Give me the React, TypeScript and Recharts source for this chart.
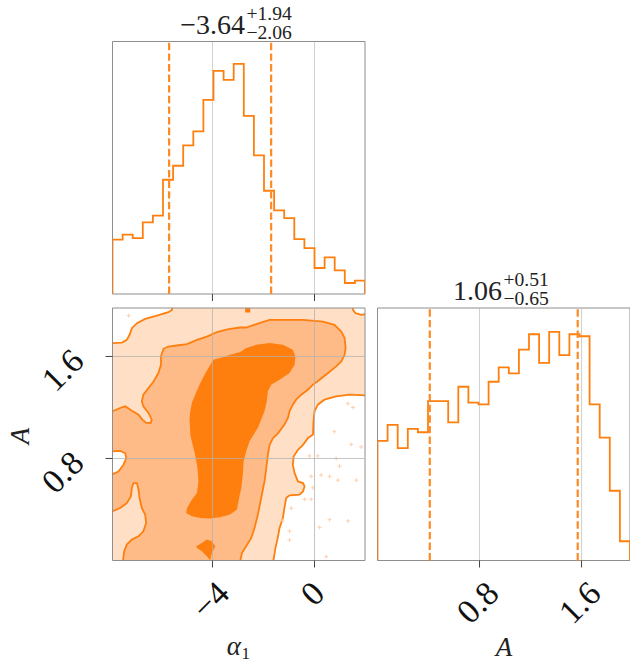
import React from 'react';
import { LineChart, Line, ScatterChart, Scatter, XAxis, YAxis, ReferenceLine, ReferenceArea } from 'recharts';

// ---------------- data ----------------
const alphaRange: [number, number] = [-7.92, 1.98];
const alphaCounts = [163, 178, 168, 215, 235, 343, 385, 446, 488, 583, 670, 643, 691, 535, 416, 310, 251, 228, 165, 138, 78, 110, 71, 33, 40];
const alphaHistMax = 758;
const alphaDashed = [-5.70, -1.70];
const alphaTicks = [-4, 0];
const alphaTickLabels = ['−4', '0'];
const alphaTitle = { main: '−3.64', sup: '+1.94', sub: '−2.06' };

const aRange: [number, number] = [0, 1.98];
const aCounts = [360, 408, 338, 396, 386, 480, 480, 416, 523, 475, 470, 538, 581, 563, 635, 681, 595, 688, 618, 681, 675, 470, 370, 210, 58];
const aHistMax = 760;
const aDashed = [0.41, 1.57];
const aTicks = [0.8, 1.6];
const aTickLabels = ['0.8', '1.6'];
const aTitle = { main: '1.06', sup: '+0.51', sub: '−0.65' };

// 2D contours (alpha_1, A)
const outerTopLeft = [[-5.59, 1.98], [-5.59, 1.965], [-5.73, 1.947], [-6.18, 1.92], [-6.64, 1.895], [-6.96, 1.861], [-7.16, 1.822], [-7.25, 1.77], [-7.36, 1.73], [-7.55, 1.709], [-7.92, 1.705]];
const outerTopRight = [[1.51, 1.98], [1.51, 1.965], [1.61, 1.939], [1.83, 1.926], [1.98, 1.931]];
const outerRight = [[1.98, 1.295], [1.37, 1.3], [0.85, 1.287], [0.39, 1.261], [0.13, 1.222], [0.0, 1.17], [-0.04, 1.092], [-0.06, 0.988], [-0.26, 0.959], [-0.45, 0.907], [-0.65, 0.868], [-0.82, 0.816], [-0.85, 0.751], [-0.78, 0.685], [-0.65, 0.62], [-0.45, 0.607], [-0.39, 0.581], [-0.45, 0.542], [-0.59, 0.516], [-0.98, 0.511], [-1.11, 0.49], [-1.18, 0.411], [-1.24, 0.333], [-1.37, 0.255], [-1.44, 0.177], [-1.53, 0.099], [-1.61, 0]];
const outerHole = [[-7.92, 0.855], [-7.62, 0.86], [-7.42, 0.841], [-7.38, 0.802], [-7.49, 0.751], [-7.69, 0.698], [-7.92, 0.677]];
const midMain = [[-7.92, 1.17], [-7.62, 1.196], [-7.42, 1.209], [-7.16, 1.175], [-6.9, 1.144], [-6.75, 1.105], [-6.6, 1.079], [-6.42, 1.079], [-6.38, 1.105], [-6.51, 1.157], [-6.71, 1.209], [-6.77, 1.248], [-6.71, 1.3], [-6.51, 1.353], [-6.31, 1.404], [-6.12, 1.47], [-6.02, 1.535], [-6.02, 1.6], [-5.92, 1.66], [-5.73, 1.678], [-5.4, 1.686], [-5.0, 1.697], [-4.61, 1.73], [-4.22, 1.756], [-3.83, 1.791], [-3.37, 1.814], [-2.91, 1.827], [-2.68, 1.827], [-2.16, 1.861], [-1.76, 1.887], [-1.37, 1.887], [-0.45, 1.887], [0.33, 1.873], [0.78, 1.848], [1.05, 1.795], [1.18, 1.744], [1.22, 1.666], [1.18, 1.613], [1.05, 1.561], [0.85, 1.522], [0.53, 1.47], [0.2, 1.418], [-0.06, 1.379], [-0.26, 1.339], [-0.52, 1.3], [-0.72, 1.261], [-0.85, 1.222], [-0.98, 1.17], [-1.04, 1.118], [-1.18, 1.066], [-1.44, 0.995], [-1.63, 0.959], [-1.76, 0.907], [-1.83, 0.829], [-1.89, 0.724], [-1.96, 0.62], [-2.09, 0.49], [-2.22, 0.36], [-2.35, 0.255], [-2.48, 0.177], [-2.68, 0.112], [-2.84, 0.06], [-2.91, 0]];
const midBottomLeft = [[-7.92, 0.386], [-7.62, 0.411], [-7.36, 0.45], [-7.2, 0.503], [-7.16, 0.568], [-7.1, 0.607], [-6.96, 0.607], [-6.9, 0.555], [-6.86, 0.49], [-6.77, 0.411], [-6.64, 0.36], [-6.6, 0.294], [-6.71, 0.229], [-6.9, 0.19], [-7.16, 0.164], [-7.36, 0.125], [-7.46, 0.073], [-7.51, 0]];
const darkMain = [[-4.87, 0.988], [-4.9, 1.105], [-4.87, 1.17], [-4.81, 1.235], [-4.68, 1.3], [-4.51, 1.379], [-4.35, 1.443], [-4.16, 1.509], [-3.96, 1.574], [-3.7, 1.587], [-3.31, 1.613], [-2.91, 1.634], [-2.68, 1.666], [-2.29, 1.691], [-1.76, 1.705], [-1.24, 1.691], [-0.85, 1.652], [-0.75, 1.6], [-0.78, 1.535], [-0.98, 1.47], [-1.37, 1.418], [-1.7, 1.379], [-1.83, 1.326], [-1.87, 1.248], [-1.96, 1.17], [-2.09, 1.105], [-2.22, 1.04], [-2.36, 0.995], [-2.55, 0.933], [-2.68, 0.855], [-2.78, 0.777], [-2.81, 0.673], [-2.87, 0.568], [-2.94, 0.503], [-3.04, 0.399], [-3.31, 0.36], [-3.7, 0.339], [-4.09, 0.329], [-4.48, 0.333], [-4.81, 0.347], [-5.03, 0.372], [-5.0, 0.411], [-4.81, 0.477], [-4.61, 0.529], [-4.55, 0.62], [-4.59, 0.724], [-4.68, 0.829], [-4.81, 0.933]];
const darkBottom = [[-4.64, 0.112], [-4.42, 0.138], [-4.22, 0.164], [-4.02, 0.151], [-3.89, 0.112], [-4.02, 0.06], [-4.09, 0], [-4.22, 0.034], [-4.42, 0.073], [-4.61, 0.099]];
const darkTop = [[-2.72, 1.98], [-2.52, 1.98], [-2.52, 1.945], [-2.72, 1.945]];
const outliers = [[-7.29, 1.92], [1.31, 1.23], [1.51, 1.2], [0.78, 1.01], [-0.2, 0.82], [0.13, 0.82], [0.85, 0.8], [1.44, 0.91], [1.83, 0.89], [0.98, 0.74], [0.26, 0.67], [0.59, 0.66], [0.92, 0.63], [-0.13, 0.66], [-0.06, 0.57], [-0.39, 0.48], [-0.13, 0.48], [1.64, 0.63], [0.59, 0.32], [0.2, 0.26], [1.31, 0.31], [-0.91, 0.41], [-0.98, 0.23], [-0.98, 0.16], [-1.24, 0.31], [0.46, 0.03]];

// ---------------- style ----------------
const W = 630, H = 662;
const PANEL = 252.5;
const AXH = 40; // space given to axes (compensated in margins)
const P1 = { left: 112.5, top: 41.5 };
const P2 = { left: 112.5, top: 308 };
const P3 = { left: 377.5, top: 308 };
const ORANGE = '#ff7f0e';
const DASH_ORANGE = '#ff8a24';
const LIGHT = '#ffdfc5';
const MID = '#febb87';
const GRID = '#b0b0b0';
const FRAME = '#8e8e8e';
const FONT = '"Liberation Serif", "Times New Roman", serif';
const TICK_FS = 34;

const marginOf = (p: { left: number; top: number }, xAxisH = 0, yAxisW = 0) => ({
  left: p.left - yAxisW,
  top: p.top,
  right: W - p.left - PANEL,
  bottom: H - p.top - PANEL - xAxisH,
});
const abs: React.CSSProperties = { position: 'absolute', left: 0, top: 0 };

const toPts = (arr: number[][]) => arr.map(([x, y]) => ({ x, y }));

function stepData(range: [number, number], counts: number[]) {
  const n = counts.length;
  const w = (range[1] - range[0]) / n;
  const pts = [{ x: range[0], y: 0 }];
  counts.forEach((c, i) => pts.push({ x: range[0] + i * w, y: c }));
  pts.push({ x: range[1], y: counts[n - 1] });
  pts.push({ x: range[1], y: 0 });
  return pts;
}

function textWidthEm(s: string) {
  let w = 0;
  for (const ch of s) w += ch === '.' ? 0.25 : ch === '−' ? 0.564 : 0.5;
  return w;
}

function BottomTick(props: any) {
  const { x, y, payload, labels, ticks } = props;
  const i = ticks.indexOf(payload.value);
  const label = labels ? labels[i] : null;
  let t = null;
  if (label) {
    const w = textWidthEm(label) * TICK_FS;
    const h = 0.66 * TICK_FS;
    const half = (w + h) / (2 * Math.SQRT2);
    const cx = x - 2;
    const cy = y + 19 + half;
    t = (
      <text x={cx} y={cy} textAnchor="middle" dominantBaseline="central" fontFamily={FONT} fontSize={TICK_FS} fill="#111" transform={`rotate(-45 ${cx} ${cy})`}>
        {label}
      </text>
    );
  }
  return (
    <g>
      <line x1={x} y1={y} x2={x} y2={y + 7} stroke="#444" strokeWidth={1} />
      {t}
    </g>
  );
}

function LeftTick(props: any) {
  const { x, y, payload, labels, ticks } = props;
  const i = ticks.indexOf(payload.value);
  const label = labels[i];
  const cx = x - 50;
  const cy = y + 13.5;
  return (
    <g>
      <line x1={x - 7} y1={y} x2={x} y2={y} stroke="#444" strokeWidth={1} />
      <text x={cx} y={cy} textAnchor="middle" dominantBaseline="central" fontFamily={FONT} fontSize={TICK_FS} fill="#111" transform={`rotate(-45 ${cx} ${cy})`}>
        {label}
      </text>
    </g>
  );
}

const NoDot = () => null;
const Cross = (p: any) => (
  <path d={`M${p.cx - 2},${p.cy}h4M${p.cx},${p.cy - 2}v4`} stroke="#ffcfae" strokeWidth={1} fill="none" />
);

const fillPoly = (key: string, pts: number[][], fill: string) => (
  <Scatter key={key} data={toPts(pts)} line={{ fill, stroke: 'none' }} lineJointType="linearClosed" shape={NoDot} isAnimationActive={false} legendType="none" />
);
const strokeLine = (key: string, pts: number[][]) => (
  <Scatter key={key} data={toPts(pts)} line={{ fill: 'none', stroke: ORANGE, strokeWidth: 1.8 }} lineJointType="linear" shape={NoDot} isAnimationActive={false} legendType="none" />
);

function Histogram({ p, range, counts, ymax, dashed, ticks, labels }: any) {
  const data = stepData(range, counts);
  return (
    <div style={abs}>
      <LineChart width={W} height={H} data={data} margin={marginOf(p, AXH, 0)}>
        <XAxis type="number" dataKey="x" domain={range} allowDataOverflow height={AXH} tickSize={0} tickMargin={0} axisLine={false} tickLine={false} ticks={ticks} interval={0} tick={<BottomTick ticks={ticks} labels={labels} />} />
        <YAxis type="number" domain={[0, ymax]} allowDataOverflow hide width={0} />
        {ticks.map((t: number) => (
          <ReferenceLine key={`g${t}`} x={t} stroke={GRID} strokeOpacity={0.6} strokeWidth={1} />
        ))}
        <Line dataKey="y" type="stepAfter" stroke={ORANGE} strokeWidth={1.8} dot={false} activeDot={false} isAnimationActive={false} />
        {dashed.map((q: number) => (
          <ReferenceLine key={`q${q}`} x={q} stroke={DASH_ORANGE} strokeWidth={2.2} strokeDasharray="7.4 3.2" />
        ))}
        <ReferenceArea x1={range[0]} x2={range[1]} y1={0} y2={ymax} fill="none" fillOpacity={0} stroke={FRAME} strokeWidth={1} ifOverflow="visible" />
      </LineChart>
    </div>
  );
}

function Title({ cx, baseline, t }: any) {
  return (
    <g fontFamily={FONT} fill="#222">
      <text x={cx - 0.5} y={baseline} textAnchor="end" fontSize={28}>{t.main}</text>
      <text x={cx + 1} y={baseline - 14} textAnchor="start" fontSize={19.6}>{t.sup}</text>
      <text x={cx + 1} y={baseline + 5} textAnchor="start" fontSize={19.6}>{t.sub}</text>
    </g>
  );
}

export default function App() {
  const panelRect = [[alphaRange[0], aRange[0]], [alphaRange[1], aRange[0]], [alphaRange[1], aRange[1]], [alphaRange[0], aRange[1]]];
  return (
    <div style={{ position: 'absolute', left: 0, top: 0, width: W, height: H, background: '#fff', overflow: 'hidden' }}>
      <Histogram p={P1} range={alphaRange} counts={alphaCounts} ymax={alphaHistMax} dashed={alphaDashed} ticks={alphaTicks} labels={null} />
      <Histogram p={P3} range={aRange} counts={aCounts} ymax={aHistMax} dashed={aDashed} ticks={aTicks} labels={aTickLabels} />

      {/* 2D contour fills and lines */}
      <div style={abs}>
        <ScatterChart width={W} height={H} margin={marginOf(P2)}>
          <XAxis type="number" dataKey="x" domain={alphaRange} allowDataOverflow hide height={0} />
          <YAxis type="number" dataKey="y" domain={aRange} allowDataOverflow hide width={0} />
          {fillPoly('bg', panelRect, LIGHT)}
          {fillPoly('mid', [...midMain, [alphaRange[0], 0]], MID)}
          {fillPoly('bl', [...midBottomLeft, [alphaRange[0], 0]], LIGHT)}
          {fillPoly('dm', darkMain, ORANGE)}
          {fillPoly('db', darkBottom, ORANGE)}
          {fillPoly('dt', darkTop, ORANGE)}
          {fillPoly('wtl', [...outerTopLeft, [alphaRange[0], aRange[1]]], '#ffffff')}
          {fillPoly('wtr', [...outerTopRight, [alphaRange[1], aRange[1]]], '#ffffff')}
          {fillPoly('wr', [...outerRight, [alphaRange[1], 0]], '#ffffff')}
          {fillPoly('wh', outerHole, '#ffffff')}
          {strokeLine('ltl', outerTopLeft)}
          {strokeLine('ltr', outerTopRight)}
          {strokeLine('lr', outerRight)}
          {strokeLine('lh', outerHole)}
          {strokeLine('lm', midMain)}
          {strokeLine('lbl', midBottomLeft)}
          <Scatter data={toPts(outliers)} shape={Cross} isAnimationActive={false} legendType="none" />
        </ScatterChart>
      </div>

      {/* 2D grid, frame, ticks */}
      <div style={abs}>
        <ScatterChart width={W} height={H} margin={marginOf(P2, AXH, AXH)}>
          <XAxis type="number" dataKey="x" domain={alphaRange} allowDataOverflow height={AXH} tickSize={0} tickMargin={0} axisLine={false} tickLine={false} ticks={alphaTicks} interval={0} tick={<BottomTick ticks={alphaTicks} labels={alphaTickLabels} />} />
          <YAxis type="number" dataKey="y" domain={aRange} allowDataOverflow width={AXH} tickSize={0} tickMargin={0} axisLine={false} tickLine={false} ticks={aTicks} interval={0} tick={<LeftTick ticks={aTicks} labels={aTickLabels} />} />
          {alphaTicks.map((t) => (
            <ReferenceLine key={`gx${t}`} x={t} stroke={GRID} strokeOpacity={0.75} strokeWidth={1} />
          ))}
          {aTicks.map((t) => (
            <ReferenceLine key={`gy${t}`} y={t} stroke={GRID} strokeOpacity={0.75} strokeWidth={1} />
          ))}
          <ReferenceArea x1={alphaRange[0]} x2={alphaRange[1]} y1={aRange[0]} y2={aRange[1]} fill="none" fillOpacity={0} stroke={FRAME} strokeWidth={1} ifOverflow="visible" />
        </ScatterChart>
      </div>

      {/* titles and axis labels */}
      <svg width={W} height={H} style={abs}>
        <Title cx={245.5} baseline={34} t={alphaTitle} />
        <Title cx={502.5} baseline={300} t={aTitle} />
        <text x={241} y={655} textAnchor="end" fontFamily={FONT} fontStyle="italic" fontSize={27} fill="#222">α</text>
        <text x={241.5} y={659} textAnchor="start" fontFamily={FONT} fontSize={17} fill="#222">1</text>
        <text x={504} y={656} textAnchor="middle" fontFamily={FONT} fontStyle="italic" fontSize={27} fill="#222">A</text>
        <text x={29} y={436} textAnchor="middle" fontFamily={FONT} fontStyle="italic" fontSize={27} fill="#222" transform="rotate(-90 29 436)">A</text>
      </svg>
    </div>
  );
}
